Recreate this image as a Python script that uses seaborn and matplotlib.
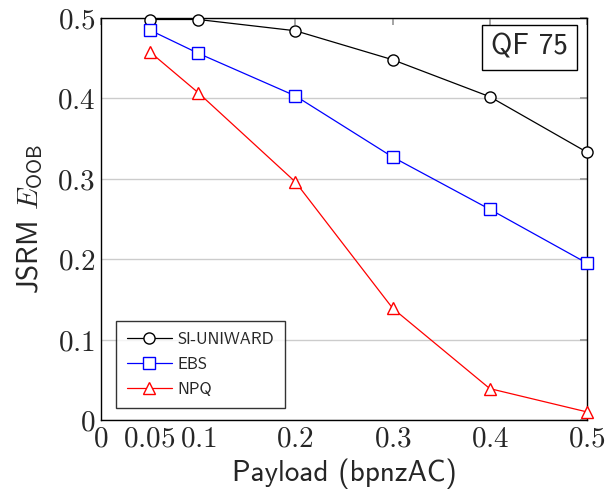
import pandas as pd
import matplotlib
matplotlib.use("Agg")
import matplotlib.pyplot as plt
from matplotlib.lines import Line2D
import seaborn as sns

sns.set_theme(style="white")
# Computer Modern sans (bundled with matplotlib) for the LaTeX look
plt.rcParams['font.family'] = ['cmss10', 'DejaVu Sans']
plt.rcParams['mathtext.fontset'] = 'cm'

# data
payload = [0.05, 0.1, 0.2, 0.3, 0.4, 0.5]
si_uniward = [0.498, 0.498, 0.484, 0.448, 0.402, 0.333]
ebs = [0.485, 0.456, 0.403, 0.327, 0.262, 0.195]
npq = [0.458, 0.407, 0.296, 0.139, 0.039, 0.010]
methods = ['SI-UNIWARD', 'EBS', 'NPQ']
colors = ['black', 'blue', 'red']
markers = ['o', 's', '^']
x_ticks = [0, 0.05, 0.1, 0.2, 0.3, 0.4, 0.5]
y_ticks = [0, 0.1, 0.2, 0.3, 0.4, 0.5]

df = pd.DataFrame({
    'payload': payload * 3,
    'error': si_uniward + ebs + npq,
    'method': [m for m in methods for _ in payload],
})

fig = plt.figure(figsize=(6.07, 4.97), dpi=100)
ax = fig.add_axes([0.1664, 0.155, 0.8006, 0.809])

sns.lineplot(data=df, x='payload', y='error', hue='method', style='method',
             hue_order=methods, style_order=methods,
             palette=dict(zip(methods, colors)),
             markers=dict(zip(methods, markers)), dashes=False,
             markersize=8, markerfacecolor='white', markeredgewidth=1.0,
             linewidth=0.9, ax=ax, clip_on=False, zorder=3, legend=False)

# open markers with coloured edges
for line, c in zip(ax.lines, colors):
    line.set_markeredgecolor(c)
    line.set_markerfacecolor('white')

ax.set_xlim(0, 0.5)
ax.set_ylim(0, 0.5)
ax.set_xticks(x_ticks)
ax.set_xticklabels(['$%g$' % t for t in x_ticks])
ax.set_yticks(y_ticks)
ax.set_yticklabels(['$%g$' % t for t in y_ticks])
ax.tick_params(axis='both', labelsize=21, direction='in', length=5,
               color='#999999', top=True, right=True, pad=4)
ax.yaxis.grid(True, color='#cccccc', linewidth=1)
ax.xaxis.grid(False)
for s in ax.spines.values():
    s.set_color('black')
    s.set_linewidth(1)

ax.set_xlabel('Payload (bpnzAC)', fontsize=21, labelpad=4)
ax.set_ylabel(r'JSRM $E_{\mathsf{OOB}}$', fontsize=21, labelpad=9)

handles = [Line2D([], [], color=c, marker=m, markersize=8, markerfacecolor='white',
                  markeredgecolor=c, linewidth=0.9)
           for c, m in zip(colors, markers)]
leg = ax.legend(handles, methods, loc='lower left', bbox_to_anchor=(0.031, 0.03),
                borderaxespad=0, fontsize=12, frameon=True, fancybox=False,
                edgecolor='black', borderpad=0.65, handlelength=2.7,
                labelspacing=0.6, handletextpad=0.35)
leg.get_frame().set_linewidth(1)

ax.text(0.961, 0.960, 'QF 75', transform=ax.transAxes, ha='right', va='top',
        fontsize=21, bbox=dict(boxstyle='square,pad=0.3', fc='white', ec='black', lw=1))

fig.savefig('out.png', dpi=100)
